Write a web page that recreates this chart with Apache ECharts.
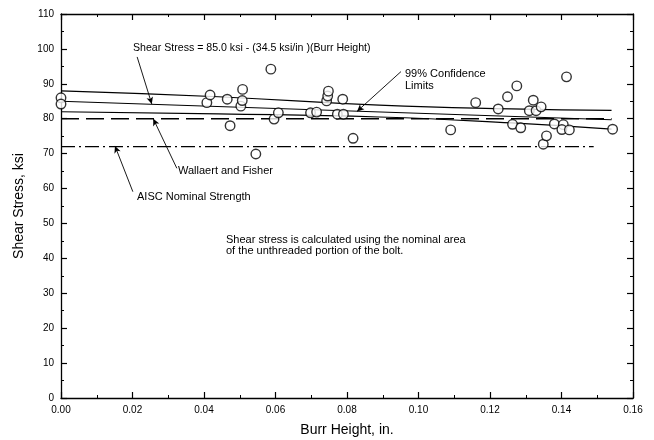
<!DOCTYPE html>
<html>
<head>
<meta charset="utf-8">
<script src="https://cdn.jsdelivr.net/npm/echarts@6/dist/echarts.min.js"></script>
<style>
html,body{margin:0;padding:0;background:#fff;}
#chart{width:654px;height:440px;}
</style>
</head>
<body>
<div id="chart"></div>
<script>
// measured bolts: burr height (in.) and shear stress (ksi)
var burrHeight = [0.000, 0.000, 0.0408, 0.0417, 0.0465, 0.0473, 0.0503, 0.0507, 0.0508, 0.0545,
  0.0587, 0.0596, 0.0608, 0.0698, 0.0715, 0.0743, 0.0746, 0.0748, 0.0773, 0.0788,
  0.0790, 0.0817, 0.1090, 0.1160, 0.1223, 0.1249, 0.1263, 0.1275, 0.1286, 0.1310,
  0.1321, 0.1329, 0.1343, 0.1349, 0.1358, 0.1380, 0.1405, 0.1401, 0.1414, 0.1422, 0.1543];
var shearStress = [86.0, 84.2, 84.6, 86.8, 85.6, 78.0, 83.6, 85.2, 88.4, 69.9,
  94.2, 79.9, 81.7, 81.7, 81.9, 85.1, 86.5, 87.9, 81.3, 85.6,
  81.3, 74.4, 76.8, 84.6, 82.8, 86.3, 78.4, 89.4, 77.4, 82.3,
  85.3, 82.3, 83.4, 72.7, 75.1, 78.5, 78.3, 76.9, 92.0, 76.8, 77.0];

// fitted line and 99% confidence limits
var fitX = [0, 0.154];
var fitY = [85.0, 79.7];
var bandX = [0, 0.044, 0.089, 0.126, 0.154];
var upperY = [88.0, 86.3, 83.9, 82.8, 82.4];
var lowerY = [82.0, 81.4, 80.5, 78.8, 77.0];

// reference strengths
var wallaertX = [0, 0.154];
var wallaertY = [80, 80];
var aiscX = [0, 0.149];
var aiscY = [72, 72];

var xTicks = ['0.00', '0.02', '0.04', '0.06', '0.08', '0.10', '0.12', '0.14', '0.16'];

function pairs(xs, ys) {
  return xs.map(function (x, i) { return [x, ys[i]]; });
}

var txt = {fontFamily: 'Liberation Sans, Arial, sans-serif', fill: '#000', fontSize: 11};

var myChart = echarts.init(document.getElementById('chart'));

var ax = {
  min: 0, max: 0.16, interval: 0.02,
  axisLine: {show: true, onZero: false, lineStyle: {color: '#000', width: 1.3}},
  axisTick: {show: true, inside: true, length: 6, lineStyle: {color: '#000', width: 1.2}},
  minorTick: {show: true, splitNumber: 2, length: 3, lineStyle: {color: '#000', width: 1}},
  splitLine: {show: false}
};
var ay = {
  min: 0, max: 110, interval: 10,
  axisLine: {show: true, onZero: false, lineStyle: {color: '#000', width: 1.3}},
  axisTick: {show: true, inside: true, length: 6, lineStyle: {color: '#000', width: 1.2}},
  minorTick: {show: true, splitNumber: 2, length: 3, lineStyle: {color: '#000', width: 1}},
  splitLine: {show: false}
};

myChart.setOption({
  backgroundColor: '#fff',
  animation: false,
  grid: {left: 61, right: 21, top: 14, bottom: 42, outerBoundsMode: 'none', containLabel: false},
  xAxis: [
    Object.assign({}, ax, {
      type: 'value', position: 'bottom',
      name: 'Burr Height, in.', nameLocation: 'middle', nameGap: 25,
      nameTextStyle: {fontSize: 14, color: '#000', fontFamily: 'Liberation Sans, Arial'},
      axisLabel: {fontSize: 10, color: '#000', fontFamily: 'Liberation Sans, Arial', margin: 7,
        formatter: function (v) { return xTicks[Math.round(v / 0.02)]; }}
    }),
    Object.assign({}, ax, {type: 'value', position: 'top', axisLabel: {show: false}})
  ],
  yAxis: [
    Object.assign({}, ay, {
      type: 'value', position: 'left',
      name: 'Shear Stress, ksi', nameLocation: 'middle', nameGap: 32,
      nameTextStyle: {fontSize: 14, color: '#000', fontFamily: 'Liberation Sans, Arial'},
      axisLabel: {fontSize: 10, color: '#000', fontFamily: 'Liberation Sans, Arial', margin: 7}
    }),
    Object.assign({}, ay, {type: 'value', position: 'right', axisLabel: {show: false}})
  ],
  series: [
    {
      type: 'line', data: pairs(fitX, fitY), symbol: 'none',
      lineStyle: {color: '#000', width: 1.2}, z: 2
    },
    {
      type: 'line', data: pairs(bandX, upperY), symbol: 'none', smooth: true,
      lineStyle: {color: '#000', width: 1.2}, z: 2
    },
    {
      type: 'line', data: pairs(bandX, lowerY), symbol: 'none', smooth: true,
      lineStyle: {color: '#000', width: 1.2}, z: 2
    },
    {
      type: 'line', data: pairs(wallaertX, wallaertY), symbol: 'none',
      lineStyle: {color: '#000', width: 1.6, type: [18, 7]}, z: 2
    },
    {
      type: 'line', data: pairs(aiscX, aiscY), symbol: 'none',
      lineStyle: {color: '#000', width: 1.3, type: [14, 4, 2, 4]}, z: 2
    },
    {
      type: 'scatter', data: pairs(burrHeight, shearStress),
      symbol: 'circle', symbolSize: 9.5, clip: false,
      itemStyle: {color: '#fff', borderColor: '#000', borderWidth: 1.4}, z: 5
    },
    {
      // annotation leaders
      type: 'line', data: [], silent: true,
      markLine: {
        silent: true, animation: false,
        symbol: ['none', 'arrow'], symbolSize: [5, 7],
        label: {show: false},
        lineStyle: {color: '#000', width: 0.9, type: 'solid'},
        data: [
          [{coord: [0.0213, 97.7]}, {coord: [0.0254, 84.2]}],
          [{coord: [0.0951, 93.5]}, {coord: [0.0828, 82.1]}],
          [{coord: [0.0324, 65.8]}, {coord: [0.0258, 80.0]}],
          [{coord: [0.0201, 59.1]}, {coord: [0.0151, 72.2]}]
        ]
      }
    }
  ],
  graphic: [
    {type: 'text', left: 133, top: 43, style: Object.assign({}, txt, {text: 'Shear Stress = 85.0 ksi - (34.5 ksi/in )(Burr Height)', fontSize: 10.6})},
    {type: 'text', left: 405, top: 68, style: Object.assign({}, txt, {text: '99% Confidence\nLimits', lineHeight: 12})},
    {type: 'text', left: 178, top: 165, style: Object.assign({}, txt, {text: 'Wallaert and Fisher'})},
    {type: 'text', left: 137, top: 191, style: Object.assign({}, txt, {text: 'AISC Nominal Strength'})},
    {type: 'text', left: 226, top: 234, style: Object.assign({}, txt, {text: 'Shear stress is calculated using the nominal area\nof the unthreaded portion of the bolt.', lineHeight: 11.5})}
  ]
});
</script>
</body>
</html>
